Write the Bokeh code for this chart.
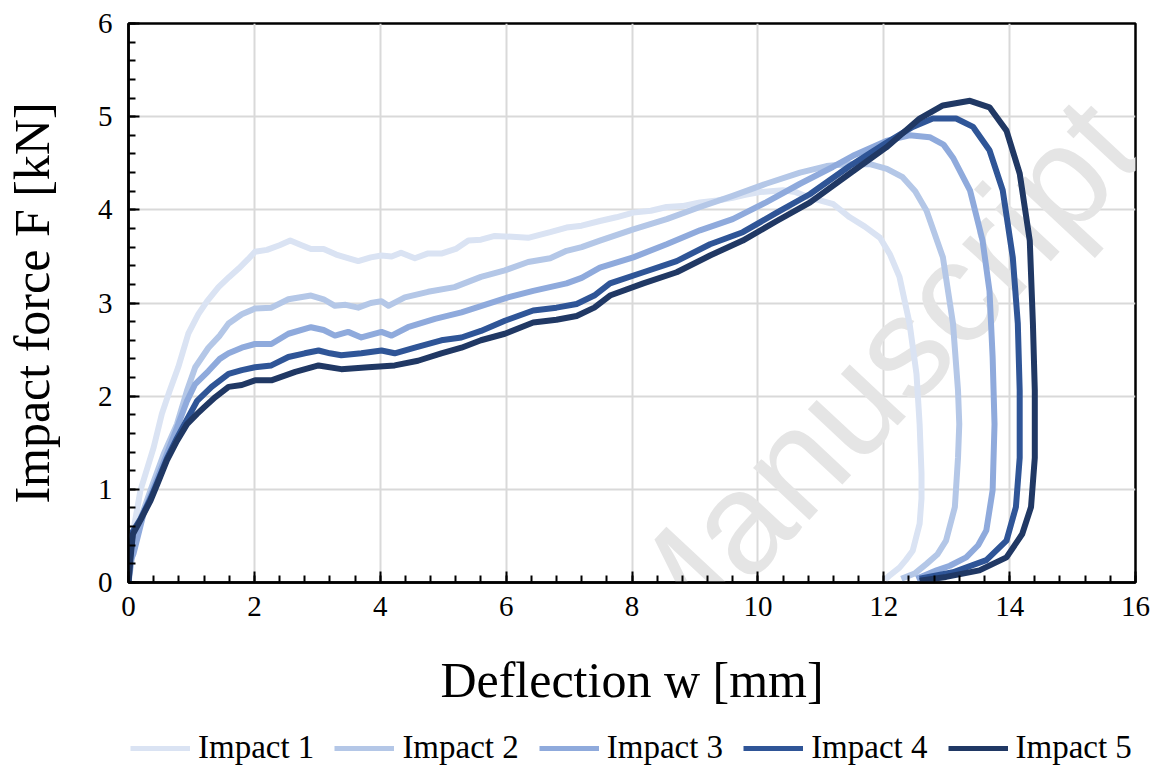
import math
from bokeh.plotting import figure
from bokeh.layouts import column
from bokeh.models import Range1d, SingleIntervalTicker, Label, Legend, LegendItem
from bokeh.embed import file_html
from bokeh.resources import INLINE

# ---------------- data ----------------
labels = ["Impact 1", "Impact 2", "Impact 3", "Impact 4", "Impact 5"]
colors = ["#dae3f3", "#b4c7e7", "#8faadc", "#2f5597", "#203864"]

w1 = [0, 0.05, 0.19, 0.4, 0.53, 0.65, 0.79, 0.95, 1.11, 1.25, 1.43, 1.6, 1.75, 1.9, 2.01, 2.2, 2.4,
      2.57, 2.75, 2.9, 3.1, 3.3, 3.5, 3.65, 3.85, 4.02, 4.18, 4.33, 4.55, 4.75, 4.97, 5.2, 5.4, 5.6,
      5.82, 6.1, 6.35, 6.7, 6.96, 7.2, 7.49, 7.75, 8.02, 8.3, 8.55, 8.8, 9.08, 9.35, 9.6, 9.8, 10.03,
      10.2, 10.4, 10.6, 10.83, 11.0, 11.2, 11.46, 11.7, 11.94, 12.1, 12.25, 12.41, 12.52, 12.57, 12.6,
      12.6, 12.57, 12.46, 12.35, 12.25, 12.1, 12.02]
F1 = [0, 0.45, 0.99, 1.45, 1.81, 2.05, 2.31, 2.67, 2.88, 3.02, 3.17, 3.28, 3.37, 3.47, 3.55, 3.57, 3.62,
      3.67, 3.62, 3.58, 3.58, 3.52, 3.48, 3.45, 3.49, 3.51, 3.50, 3.54, 3.48, 3.53, 3.53, 3.58, 3.67, 3.68,
      3.72, 3.71, 3.70, 3.76, 3.81, 3.83, 3.88, 3.92, 3.97, 3.99, 4.03, 4.04, 4.08, 4.10, 4.13, 4.16, 4.19,
      4.20, 4.21, 4.19, 4.13, 4.10, 4.06, 3.92, 3.82, 3.70, 3.52, 3.28, 2.78, 2.24, 1.70, 1.17,
      0.9, 0.63, 0.34, 0.24, 0.16, 0.08, 0.03]

w2 = [0, 0.08, 0.2, 0.35, 0.56, 0.77, 0.93, 1.06, 1.27, 1.45, 1.59, 1.8, 2.01, 2.27, 2.54, 2.9, 3.1,
      3.28, 3.45, 3.65, 3.85, 4.02, 4.13, 4.39, 4.76, 5.18, 5.6, 5.98, 6.35, 6.7, 6.96, 7.2, 7.49, 8.02,
      8.55, 9.08, 9.6, 10.13, 10.67, 11.09, 11.4, 11.78, 12.05, 12.3, 12.5, 12.68, 12.94, 13.1, 13.18,
      13.2, 13.18, 13.13, 12.99, 12.85, 12.68, 12.5, 12.28]
F2 = [0, 0.38, 0.7, 0.99, 1.38, 1.7, 2.06, 2.31, 2.52, 2.65, 2.78, 2.88, 2.94, 2.95, 3.04, 3.08, 3.04,
      2.97, 2.98, 2.95, 3.00, 3.02, 2.97, 3.06, 3.12, 3.17, 3.28, 3.35, 3.44, 3.48, 3.56, 3.60, 3.67, 3.79,
      3.90, 4.03, 4.15, 4.28, 4.40, 4.47, 4.49, 4.49, 4.44, 4.35, 4.20, 3.99, 3.49, 2.78, 2.06,
      1.7, 1.34, 0.81, 0.45, 0.3, 0.2, 0.1, 0.04]

w3 = [0, 0.04, 0.08, 0.24, 0.4, 0.61, 0.77, 0.93, 1.06, 1.27, 1.45, 1.59, 1.8, 2.01, 2.27, 2.54, 2.9,
      3.1, 3.28, 3.49, 3.7, 4.02, 4.18, 4.44, 4.87, 5.29, 5.71, 6.03, 6.43, 6.96, 7.2, 7.49, 8.02, 8.55,
      9.08, 9.6, 10.13, 10.67, 11.19, 11.51, 12.04, 12.41, 12.73, 12.95, 13.1, 13.37, 13.57, 13.68,
      13.73, 13.76, 13.73, 13.63, 13.5, 13.31, 13.05, 12.84, 12.52]
F3 = [0, 0.25, 0.31, 0.74, 1.02, 1.38, 1.66, 1.95, 2.13, 2.27, 2.4, 2.46, 2.52, 2.56, 2.56, 2.67, 2.74,
      2.71, 2.65, 2.69, 2.63, 2.69, 2.65, 2.74, 2.83, 2.9, 2.99, 3.06, 3.13, 3.21, 3.27, 3.38, 3.49, 3.63,
      3.78, 3.9, 4.08, 4.28, 4.46, 4.58, 4.74, 4.8, 4.78, 4.70, 4.56, 4.21, 3.67, 3.13,
      2.42, 1.7, 0.99, 0.56, 0.4, 0.27, 0.18, 0.13, 0.04]

w4 = [0, 0.03, 0.07, 0.19, 0.35, 0.46, 0.61, 0.77, 0.93, 1.09, 1.32, 1.59, 1.8, 2.01, 2.27, 2.54, 2.8,
      3.02, 3.2, 3.38, 3.7, 4.02, 4.23, 4.55, 4.97, 5.29, 5.6, 5.98, 6.43, 6.8, 7.12, 7.4, 7.65, 8.18,
      8.71, 9.24, 9.76, 10.3, 10.83, 11.46, 12.04, 12.46, 12.78, 13.15, 13.42, 13.68, 13.89, 14.05,
      14.13, 14.16, 14.16, 14.1, 13.95, 13.63, 13.1, 12.57]
F4 = [0, 0.3, 0.55, 0.68, 0.9, 1.08, 1.33, 1.55, 1.75, 1.95, 2.1, 2.24, 2.28, 2.31, 2.33, 2.42, 2.46,
      2.49, 2.46, 2.44, 2.46, 2.49, 2.46, 2.52, 2.6, 2.63, 2.70, 2.81, 2.92, 2.95, 2.99, 3.08, 3.21, 3.33,
      3.45, 3.63, 3.76, 3.97, 4.17, 4.47, 4.72, 4.89, 4.98, 4.98, 4.89, 4.64, 4.21, 3.49,
      2.78, 2.06, 1.34, 0.81, 0.45, 0.24, 0.11, 0.04]

w5 = [0, 0.03, 0.07, 0.19, 0.35, 0.46, 0.61, 0.77, 0.93, 1.09, 1.2, 1.38, 1.59, 1.8, 2.01, 2.27, 2.65,
      3.02, 3.38, 3.81, 4.23, 4.6, 4.97, 5.29, 5.6, 5.98, 6.43, 6.8, 7.12, 7.4, 7.65, 8.18, 8.71, 9.24,
      9.76, 10.3, 10.83, 11.46, 12.04, 12.57, 12.94, 13.37, 13.68, 13.95, 14.16, 14.32, 14.37, 14.4,
      14.4, 14.34, 14.2, 13.95, 13.52, 12.99, 12.57]
F5 = [0, 0.25, 0.52, 0.67, 0.88, 1.06, 1.31, 1.52, 1.7, 1.81, 1.88, 1.99, 2.1, 2.12, 2.17, 2.17, 2.26,
      2.33, 2.29, 2.31, 2.33, 2.38, 2.46, 2.52, 2.6, 2.67, 2.79, 2.82, 2.86, 2.95, 3.08, 3.21, 3.33, 3.51,
      3.67, 3.88, 4.08, 4.39, 4.67, 4.98, 5.12, 5.17, 5.1, 4.85, 4.39, 3.67, 2.78, 2.06,
      1.34, 0.81, 0.52, 0.27, 0.13, 0.06, 0.02]

series_w = [w1, w2, w3, w4, w5]
series_F = [F1, F2, F3, F4, F5]

# ---------------- main figure ----------------
SERIF = "Liberation Serif"
p = figure(width=1159, height=720, x_range=Range1d(0, 16), y_range=Range1d(0, 6),
           output_backend="svg", toolbar_location=None,
           min_border_left=128, min_border_right=24, min_border_top=23, min_border_bottom=138)
p.background_fill_color = "white"
p.border_fill_color = "white"
p.outline_line_color = "black"
p.outline_line_width = 2.5
p.outline_line_alpha = 1.0

p.xaxis.ticker = SingleIntervalTicker(interval=2, num_minor_ticks=5)
p.yaxis.ticker = SingleIntervalTicker(interval=1, num_minor_ticks=5)
for ax in (p.xaxis[0], p.yaxis[0]):
    ax.axis_line_width = 2.5
    ax.axis_line_color = "black"
    ax.major_tick_in = 11
    ax.major_tick_out = 0
    ax.minor_tick_in = 7
    ax.minor_tick_out = 0
    ax.major_tick_line_width = 2
    ax.minor_tick_line_width = 2
    ax.major_tick_line_color = "black"
    ax.minor_tick_line_color = "black"
    ax.major_label_text_font = SERIF
    ax.major_label_text_font_size = "29px"
    ax.major_label_text_color = "black"
    ax.axis_label_text_font = SERIF
    ax.axis_label_text_font_style = "normal"
    ax.axis_label_text_color = "black"
p.xaxis.major_label_standoff = 14
p.yaxis.major_label_standoff = 16
p.xaxis.axis_label = "Deflection w [mm]"
p.xaxis.axis_label_text_font_size = "50px"
p.xaxis.axis_label_standoff = 33
p.yaxis.axis_label = "Impact force F [kN]"
p.yaxis.axis_label_text_font_size = "50px"
p.yaxis.axis_label_standoff = 35

p.xgrid.ticker = SingleIntervalTicker(interval=2)
p.ygrid.ticker = SingleIntervalTicker(interval=1)
p.grid.grid_line_color = "#d9d9d9"
p.grid.grid_line_width = 2

# watermark (drawn beneath the curves)
p.add_layout(Label(x=500, y=-58, x_units="screen", y_units="screen", text="Manuscript",
                   angle=0.82, angle_units="rad", text_align="left", text_baseline="alphabetic",
                   text_font="Liberation Sans", text_font_size="145px", text_color="#e5e5e5",
                   level="underlay"))

for col, ws, Fs in zip(colors, series_w, series_F):
    p.line(ws, Fs, line_color=col, line_width=6, line_join="round")

# ---------------- legend strip (its frame is aligned with the main frame) ----------------
pl = figure(width=1159, height=49, x_range=Range1d(-20, -19), y_range=Range1d(-20, -19),
            output_backend="svg", toolbar_location=None, min_border=0,
            x_axis_location=None, y_axis_location=None)
pl.grid.visible = False
pl.outline_line_color = None
pl.background_fill_color = "white"
pl.border_fill_color = "white"
items = []
for lab, col, ws, Fs in zip(labels, colors, series_w, series_F):
    # same series; the ranges of this strip keep them out of view, only the legend shows
    r = pl.line(ws, Fs, line_color=col, line_width=5)
    items.append(LegendItem(label=lab, renderers=[r]))
legend = Legend(items=items, orientation="horizontal", location=(2, 3),
                glyph_width=60, glyph_height=20, label_standoff=8, spacing=20,
                padding=0, margin=0, border_line_color=None, background_fill_alpha=0,
                label_text_font=SERIF, label_text_font_size="33px", label_text_color="black")
pl.add_layout(legend, "center")

open("out.html", "w").write(file_html(column(p, pl, spacing=0), INLINE))
